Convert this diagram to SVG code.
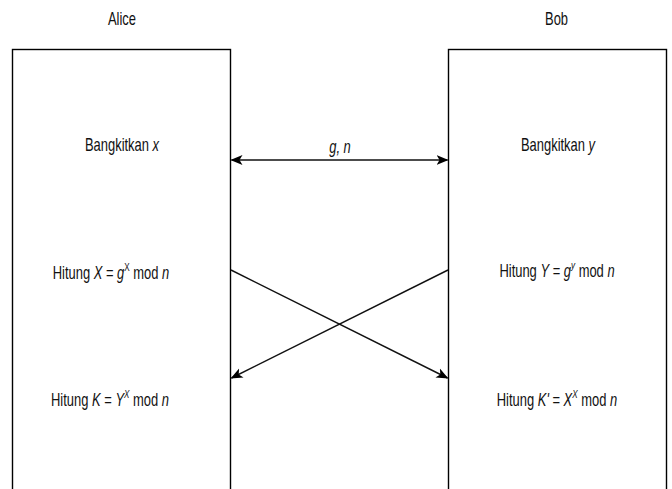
<svg xmlns="http://www.w3.org/2000/svg" width="672" height="489" viewBox="0 0 672 489">
  <style>
    .lbl { font-family: "Liberation Sans", Arial, Helvetica, sans-serif; font-size: 17.5px; fill: #111; text-anchor: middle; }
    .i { font-style: italic; }
    .sup { font-size: 11px; }
    .box { fill: #fff; stroke: #000; stroke-width: 1.4; }
    .edge { fill: none; stroke: #111; stroke-width: 1.4; }
  </style>
  <defs>
    <marker id="arrow" viewBox="0 0 12 12" refX="11" refY="6" markerWidth="12" markerHeight="12" markerUnits="userSpaceOnUse" orient="auto-start-reverse">
      <path d="M0,1 L12,6 L0,11 L3,6 Z" fill="#000"/>
    </marker>
  </defs>
  <rect width="672" height="489" fill="#fff"/>

  <!-- Alice column -->
  <g id="alice">
    <g transform="translate(122,25) scale(0.74,1)"><text class="lbl">Alice</text></g>
    <rect class="box" x="12.5" y="49.5" width="218" height="460"/>
    <g transform="translate(122,151) scale(0.74,1)"><text class="lbl">Bangkitkan <tspan class="i">x</tspan></text></g>
    <g transform="translate(111,279) scale(0.74,1)"><text class="lbl">Hitung <tspan class="i">X</tspan> = <tspan class="i">g</tspan><tspan class="sup" dy="-8">X</tspan><tspan dy="8"> mod </tspan><tspan class="i">n</tspan></text></g>
    <g transform="translate(110,406) scale(0.74,1)"><text class="lbl">Hitung <tspan class="i">K</tspan> = <tspan class="i">Y</tspan><tspan class="sup i" dy="-8">X</tspan><tspan dy="8"> mod </tspan><tspan class="i">n</tspan></text></g>
  </g>

  <!-- Bob column -->
  <g id="bob">
    <g transform="translate(556.5,25) scale(0.74,1)"><text class="lbl">Bob</text></g>
    <rect class="box" x="448.5" y="49.5" width="218" height="460"/>
    <g transform="translate(558,151) scale(0.74,1)"><text class="lbl">Bangkitkan <tspan class="i">y</tspan></text></g>
    <g transform="translate(557,277) scale(0.74,1)"><text class="lbl">Hitung <tspan class="i">Y</tspan> = <tspan class="i">g</tspan><tspan class="sup i" dy="-8">y</tspan><tspan dy="8"> mod </tspan><tspan class="i">n</tspan></text></g>
    <g transform="translate(557,406) scale(0.74,1)"><text class="lbl">Hitung <tspan class="i">K'</tspan> = <tspan class="i">X</tspan><tspan class="sup i" dy="-8">X</tspan><tspan dy="8"> mod </tspan><tspan class="i">n</tspan></text></g>
  </g>

  <!-- message exchange -->
  <g id="connectors">
    <line class="edge" x1="231.5" y1="160" x2="447.5" y2="160" marker-start="url(#arrow)" marker-end="url(#arrow)"/>
    <g transform="translate(340,153) scale(0.74,1)"><text class="lbl i">g, n</text></g>
    <line class="edge" x1="231" y1="270" x2="447.5" y2="378" marker-end="url(#arrow)"/>
    <line class="edge" x1="448" y1="270" x2="231.5" y2="378" marker-end="url(#arrow)"/>
  </g>
</svg>
